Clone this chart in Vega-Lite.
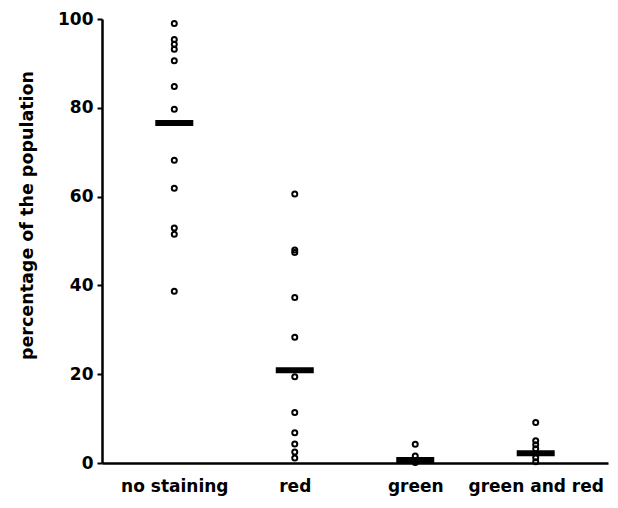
{
  "$schema": "https://vega.github.io/schema/vega-lite/v6.json",
  "autosize": "none",
  "width": 506,
  "height": 444,
  "padding": {"left": 102, "top": 19, "right": 10, "bottom": 45},
  "config": {
    "view": {"stroke": null},
    "font": "DejaVu Sans",
    "axis": {"grid": false, "domainColor": "black", "tickColor": "black", "labelColor": "black", "titleColor": "black", "labelFont": "DejaVu Sans", "titleFont": "DejaVu Sans", "labelFontWeight": "bold", "titleFontWeight": "bold"}
  },
  "layer": [
    {
      "data": {"values": [
        {"group": "no staining", "value": 99.0},
        {"group": "no staining", "value": 95.4},
        {"group": "no staining", "value": 94.3},
        {"group": "no staining", "value": 93.2},
        {"group": "no staining", "value": 90.6},
        {"group": "no staining", "value": 84.8},
        {"group": "no staining", "value": 79.7},
        {"group": "no staining", "value": 68.2},
        {"group": "no staining", "value": 61.9},
        {"group": "no staining", "value": 52.9},
        {"group": "no staining", "value": 51.5},
        {"group": "no staining", "value": 38.7},
        {"group": "red", "value": 60.6},
        {"group": "red", "value": 48.0},
        {"group": "red", "value": 47.4},
        {"group": "red", "value": 37.3},
        {"group": "red", "value": 28.3},
        {"group": "red", "value": 19.4},
        {"group": "red", "value": 11.4},
        {"group": "red", "value": 6.8},
        {"group": "red", "value": 4.3},
        {"group": "red", "value": 2.5},
        {"group": "red", "value": 1.1},
        {"group": "green", "value": 4.2},
        {"group": "green", "value": 1.6},
        {"group": "green", "value": 0.1},
        {"group": "green and red", "value": 9.1},
        {"group": "green and red", "value": 5.0},
        {"group": "green and red", "value": 4.1},
        {"group": "green and red", "value": 3.2},
        {"group": "green and red", "value": 1.2},
        {"group": "green and red", "value": 0.3}
      ]},
      "mark": {"type": "point", "shape": "circle", "filled": false, "stroke": "black", "strokeWidth": 2, "size": 25, "opacity": 1},
      "encoding": {
        "x": {"field": "group", "type": "nominal", "sort": ["no staining", "red", "green", "green and red"],
          "scale": {"type": "point", "padding": 0.6},
          "axis": {"title": null, "labelAngle": 0, "labelFontSize": 17, "labelPadding": 15, "ticks": false, "domainWidth": 2.5}},
        "y": {"field": "value", "type": "quantitative", "scale": {"domain": [0, 100], "nice": false},
          "axis": {"title": "percentage of the population", "values": [0, 20, 40, 60, 80, 100], "labelFontSize": 17, "titleFontSize": 17.5, "tickSize": 5, "tickWidth": 2, "domainWidth": 2.5, "labelPadding": 4,
            "titleX": -75, "titleY": 196, "titleAngle": -90, "titleAlign": "center", "titleBaseline": "middle"}}
      }
    },
    {
      "data": {"values": [
        {"group": "no staining", "mean": 76.6},
        {"group": "red", "mean": 20.9},
        {"group": "green", "mean": 0.7},
        {"group": "green and red", "mean": 2.2}
      ]},
      "mark": {"type": "tick", "color": "black", "size": 38, "thickness": 6, "opacity": 1},
      "encoding": {
        "x": {"field": "group", "type": "nominal", "sort": ["no staining", "red", "green", "green and red"]},
        "y": {"field": "mean", "type": "quantitative"}
      }
    }
  ]
}
